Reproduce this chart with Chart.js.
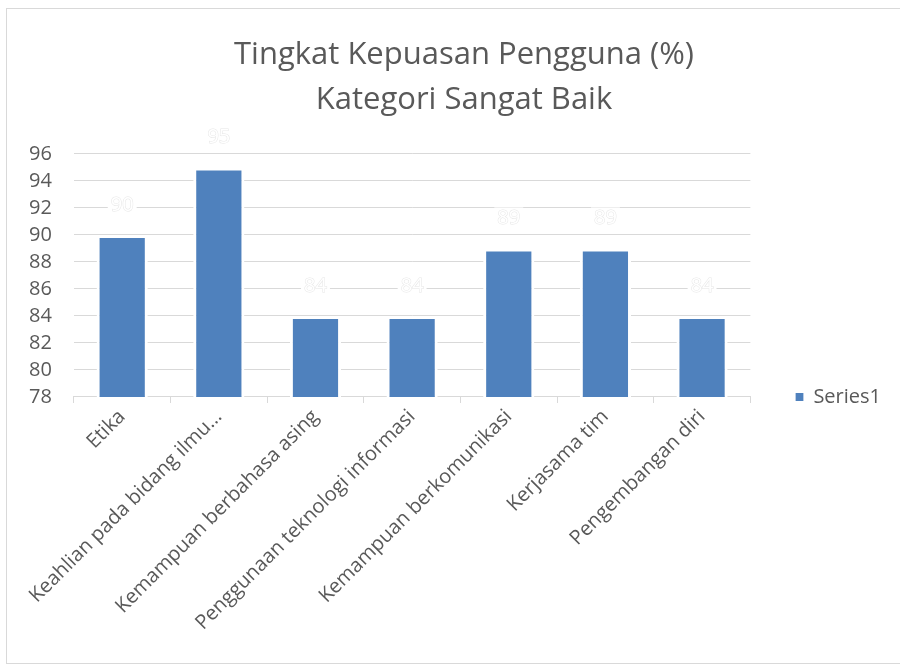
<!DOCTYPE html>
<html>
<head>
<meta charset="utf-8">
<script src="https://cdn.jsdelivr.net/npm/chart.js@4.4.1/dist/chart.umd.min.js"></script>
<style>
  html, body { margin: 0; padding: 0; background: #fff; overflow: hidden; }
  .frame { position: absolute; left: 6px; top: 8px; width: 1000px; height: 654px; border: 1px solid #d9d9d9; }
  .chart-box { position: absolute; left: 0; top: 0; width: 900px; height: 666px; }
</style>
</head>
<body>
<div class="frame"></div>
<div class="chart-box"><canvas id="myBarChart"></canvas></div>
<script>
// Data
const kategori = [
  "Etika",
  "Keahlian pada bidang ilmu…",
  "Kemampuan berbahasa asing",
  "Penggunaan teknologi informasi",
  "Kemampuan berkomunikasi",
  "Kerjasama tim",
  "Pengembangan diri",
];
const nilai = [90, 95, 84, 84, 89, 89, 84];
const judul = ["Tingkat Kepuasan Pengguna (%)", "Kategori Sangat Baik"];
const namaSeri = "Series1";

const FONT = "'Open Sans', 'Noto Sans', sans-serif";
const abu = "#595959";
const garis = "#d9d9d9";

// label nilai di atas batang (putih, seperti di gambar asli)
const labelNilai = {
  id: "labelNilai",
  afterLayout(chart) {
    // geser kotak judul sedikit ke kanan (di Excel judul tidak tepat di tengah kanvas)
    if (chart.titleBlock) {
      chart.titleBlock.left += 30;
      chart.titleBlock.width -= 30;
    }
  },
  afterDatasetsDraw(chart) {
    const ctx = chart.ctx;
    const meta = chart.getDatasetMeta(0);
    ctx.save();
    ctx.font = "20px " + FONT;
    ctx.textAlign = "center";
    ctx.textBaseline = "middle";
    meta.data.forEach((bar, i) => {
      const text = String(nilai[i]);
      const w = ctx.measureText(text).width + 6;
      const y = bar.y - 30;
      ctx.fillStyle = "#fff";
      ctx.fillRect(bar.x - w / 2, y - 11, w, 22);
      ctx.lineWidth = 1;
      ctx.strokeStyle = "rgba(205,205,205,0.5)";
      ctx.strokeText(text, bar.x, y);
      ctx.fillText(text, bar.x, y);
    });
    ctx.restore();
  },
};

const ctx = document.getElementById("myBarChart");

new Chart(ctx, {
  type: "bar",
  data: {
    labels: kategori,
    datasets: [
      {
        label: namaSeri,
        data: nilai,
        backgroundColor: "#4f81bd",
        borderColor: "#ffffff",
        borderWidth: 3,
        borderSkipped: "bottom",
        categoryPercentage: 1,
        barPercentage: 0.53,
      },
    ],
  },
  options: {
    responsive: true,
    maintainAspectRatio: false,
    animation: false,
    layout: {
      padding: { left: 7, right: 9, top: 0, bottom: 29 },
    },
    scales: {
      x: {
        grid: {
          display: true,
          drawOnChartArea: false,
          drawTicks: true,
          tickLength: 6,
          color: garis,
        },
        border: { display: true, color: garis },
        ticks: {
          color: abu,
          font: { family: FONT, size: 20 },
          minRotation: 45,
          maxRotation: 45,
          autoSkip: false,
          padding: 2,
        },
      },
      y: {
        min: 78,
        max: 96,
        ticks: {
          stepSize: 2,
          autoSkip: false,
          color: abu,
          font: { family: FONT, size: 20 },
          padding: 22,
        },
        grid: {
          color: garis,
          drawTicks: false,
        },
        border: { display: false },
      },
      // sumbu kosong di kanan, hanya untuk memberi jarak ke legenda
      jarak: {
        type: "linear",
        position: "right",
        display: true,
        ticks: { display: false },
        grid: { display: false, drawTicks: false },
        border: { display: false },
        afterFit(scale) {
          scale.width = 45;
        },
      },
    },
    plugins: {
      title: {
        display: true,
        text: judul,
        color: abu,
        font: { family: FONT, size: 31, weight: "normal", lineHeight: 1.45 },
        padding: { top: 33, bottom: 31 },
      },
      legend: {
        position: "right",
        align: "start",
        title: {
          display: true,
          text: " ",
          font: { size: 1, lineHeight: 1 },
          padding: { top: 0, bottom: 386 },
        },
        labels: {
          boxWidth: 8,
          boxHeight: 8,
          color: abu,
          font: { family: FONT, size: 20 },
          padding: 0,
          // kotak legenda tanpa garis tepi putih
          generateLabels(chart) {
            const items = Chart.defaults.plugins.legend.labels.generateLabels(chart);
            items.forEach((it) => {
              it.lineWidth = 0;
              it.strokeStyle = it.fillStyle;
            });
            return items;
          },
        },
      },
      tooltip: { enabled: false },
    },
  },
  plugins: [labelNilai],
});
</script>
</body>
</html>
